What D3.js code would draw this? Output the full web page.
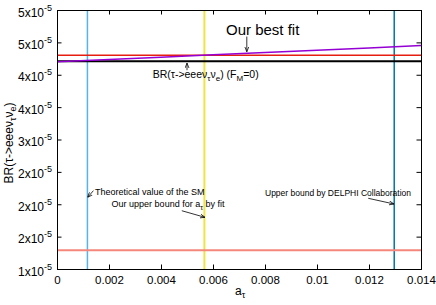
<!DOCTYPE html>
<html>
<head>
<meta charset="utf-8">
<script src="https://cdn.jsdelivr.net/npm/d3@7"></script>
<style>
  body { margin: 0; background: #fff; }
  text { font-family: "Liberation Sans", Arial, sans-serif; }
</style>
</head>
<body>
<div id="chart"></div>
<script>
// values in units of 1e-5 for BR
const xTicks = [0, 0.002, 0.004, 0.006, 0.008, 0.01, 0.012, 0.014];
const xTickLabels = ["0", "0.002", "0.004", "0.006", "0.008", "0.01", "0.012", "0.014"];
const yTicks = [1, 1.5, 2, 2.5, 3, 3.5, 4, 4.5, 5];
const yTickLabels = ["1", "2", "2", "2", "3", "4", "4", "5", "5"];

// best fit curve (purple)
const fitA = [0, 0.002, 0.004, 0.006, 0.008, 0.010, 0.012, 0.014];
const fitBR = [4.20, 4.235, 4.27, 4.31, 4.345, 4.38, 4.415, 4.45];

// horizontal reference lines
const hLines = [
  { name: "BR F_M=0", value: 4.21, color: "#000000", width: 2 },
  { name: "upper", value: 4.30, color: "#e51e10", width: 1.5 },
  { name: "lower", value: 1.29, color: "#f4867c", width: 2 }
];

// vertical reference lines (a_tau)
const vLines = [
  { name: "SM", value: 0.00117, color: "#56b4e9", width: 1.5 },
  { name: "fit bound", value: 0.00567, color: "#f0e442", width: 2 },
  { name: "DELPHI", value: 0.01297, color: "#0072b2", width: 1.5 }
];

const W = 436, H = 305;
const margin = { top: 10, right: 15, bottom: 36, left: 57 };

const svg = d3.select("#chart").append("svg")
    .attr("width", W)
    .attr("height", H);

const x = d3.scaleLinear().domain([0, 0.014]).range([margin.left, W - margin.right]);
const y = d3.scaleLinear().domain([1, 5]).range([H - margin.bottom, margin.top]);

// arrow marker
svg.append("defs").append("marker")
    .attr("id", "head")
    .attr("viewBox", "0 0 10 10")
    .attr("refX", 10).attr("refY", 5)
    .attr("markerWidth", 5).attr("markerHeight", 5)
    .attr("markerUnits", "userSpaceOnUse")
    .attr("orient", "auto")
  .append("path")
    .attr("d", "M0,1 L10,5 L0,9")
    .attr("fill", "none")
    .attr("stroke", "#000")
    .attr("stroke-width", 1.5);

const plot = svg.append("g");

vLines.forEach(d => {
  plot.append("line")
      .attr("x1", x(d.value)).attr("x2", x(d.value))
      .attr("y1", y(1)).attr("y2", y(5))
      .attr("stroke", d.color)
      .attr("stroke-width", d.width);
});

hLines.forEach(d => {
  plot.append("line")
      .attr("x1", x(0)).attr("x2", x(0.014))
      .attr("y1", y(d.value)).attr("y2", y(d.value))
      .attr("stroke", d.color)
      .attr("stroke-width", d.width);
});

plot.append("path")
    .datum(fitA.map((a, i) => [a, fitBR[i]]))
    .attr("fill", "none")
    .attr("stroke", "#9400d3")
    .attr("stroke-width", 1.5)
    .attr("d", d3.line().x(d => x(d[0])).y(d => y(d[1])));

// axes (ticks inward, mirrored)
const tickLen = 4.5;
const axB = svg.append("g").attr("transform", `translate(0,${y(1)})`)
    .call(d3.axisBottom(x).tickValues(xTicks).tickSize(-tickLen).tickPadding(7)
      .tickFormat((d, i) => xTickLabels[i]));
const axT = svg.append("g").attr("transform", `translate(0,${y(5)})`)
    .call(d3.axisTop(x).tickValues(xTicks).tickSize(-tickLen).tickFormat(""));
const axL = svg.append("g").attr("transform", `translate(${x(0)},0)`)
    .call(d3.axisLeft(y).tickValues(yTicks).tickSize(-tickLen).tickPadding(6).tickFormat(""));
const axR = svg.append("g").attr("transform", `translate(${x(0.014)},0)`)
    .call(d3.axisRight(y).tickValues(yTicks).tickSize(-tickLen).tickFormat(""));

[axB, axT, axL, axR].forEach(g => {
  g.select(".domain").attr("stroke", "#000");
  g.selectAll(".tick line").attr("stroke", "#000");
});
axB.selectAll(".tick text")
    .attr("font-size", 11.5)
    .attr("fill", "#000")
    .attr("font-family", "Liberation Sans, Arial, sans-serif");

// y tick labels with superscript
axL.selectAll(".tick").each(function(d, i) {
  const t = d3.select(this).append("text")
      .attr("x", -5)
      .attr("y", 6)
      .attr("text-anchor", "end")
      .attr("font-size", 12)
      .attr("fill", "#000");
  t.append("tspan").text(yTickLabels[i] + "x10");
  t.append("tspan").attr("dy", -6).attr("font-size", 9).text("-5");
});

// axis titles
const xt = svg.append("text")
    .attr("x", x(0.007) - 4)
    .attr("y", 295)
    .attr("font-size", 12)
    .attr("fill", "#000");
xt.append("tspan").text("a");
xt.append("tspan").attr("dy", 3).attr("font-size", 9).text("τ");

const yt = svg.append("text")
    .attr("transform", `translate(13,${143}) rotate(-90)`)
    .attr("text-anchor", "middle")
    .attr("font-size", 12)
    .attr("fill", "#000");
yt.append("tspan").text("BR(τ->eeeν");
yt.append("tspan").attr("dy", 3).attr("font-size", 9).text("τ");
yt.append("tspan").attr("dy", -3).text("ν");
yt.append("tspan").attr("dy", 3).attr("font-size", 9).text("e");
yt.append("tspan").attr("dy", -3).text(")");

// annotations in data coordinates
const arrows = [
  { from: [0.0073, 4.59], to: [0.0073, 4.355] },
  { from: [0.005, 4.07], to: [0.005, 4.18] },
  { from: [0.0014, 2.21], to: [0.00118, 2.107] },
  { from: [0.0048, 1.90], to: [0.00569, 1.798] },
  { from: [0.01197, 2.092], to: [0.01296, 2.004] }
];

arrows.forEach(d => {
  svg.append("line")
      .attr("x1", x(d.from[0])).attr("y1", y(d.from[1]))
      .attr("x2", x(d.to[0])).attr("y2", y(d.to[1]))
      .attr("stroke", "#000")
      .attr("stroke-width", 0.8)
      .attr("marker-end", "url(#head)");
});

svg.append("text")
    .attr("x", x(0.0065)).attr("y", y(4.614))
    .attr("font-size", 15).attr("fill", "#000")
    .text("Our best fit");

const brLab = svg.append("text")
    .attr("x", x(0.00368)).attr("y", y(3.95))
    .attr("font-size", 10.5).attr("fill", "#000");
brLab.append("tspan").text("BR(τ->eeeν");
brLab.append("tspan").attr("dy", 3).attr("font-size", 8).text("τ");
brLab.append("tspan").attr("dy", -3).text("ν");
brLab.append("tspan").attr("dy", 3).attr("font-size", 8).text("e");
brLab.append("tspan").attr("dy", -3).text(") (F");
brLab.append("tspan").attr("dy", 3).attr("font-size", 8).text("M");
brLab.append("tspan").attr("dy", -3).text("=0)");

svg.append("text")
    .attr("x", x(0.00146)).attr("y", y(2.143))
    .attr("font-size", 9).attr("fill", "#000")
    .text("Theoretical value of the SM");

const ub = svg.append("text")
    .attr("x", x(0.0021)).attr("y", y(1.95))
    .attr("font-size", 9).attr("fill", "#000");
ub.append("tspan").text("Our upper bound for a");
ub.append("tspan").attr("dy", 2.5).attr("font-size", 7).text("τ");
ub.append("tspan").attr("dy", -2.5).text(" by fit");

svg.append("text")
    .attr("x", x(0.008)).attr("y", y(2.135))
    .attr("font-size", 8.5).attr("fill", "#000")
    .text("Upper bound by DELPHI Collaboration");
</script>
</body>
</html>
